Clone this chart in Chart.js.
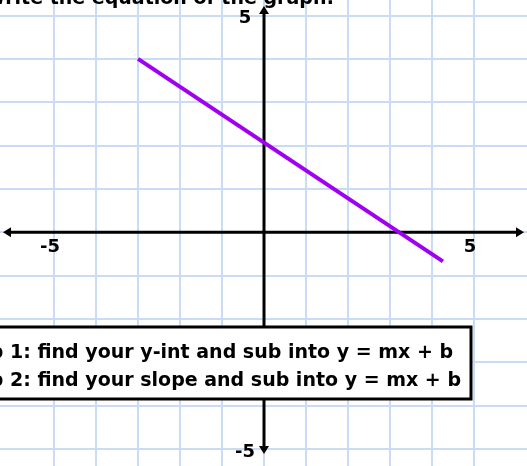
<!DOCTYPE html>
<html>
<head>
<meta charset="utf-8">
<script src="https://cdn.jsdelivr.net/npm/chart.js@4"></script>
<style>
  html, body { margin: 0; padding: 0; background: #fff; }
  #wrap { width: 527px; height: 466px; position: relative; }
</style>
</head>
<body>
<div id="wrap"><canvas id="graph"></canvas></div>
<script>
// line
const lineX = [-3, 4.26];
const lineY = [4, -0.67];
// axis labels
const xLabels = [-5, 5];
const yLabels = [5, -5];
const titleText = 'Write the equation of the graph:';
const steps = [
  'Step 1: find your y-int and sub into y = mx + b',
  'Step 2: find your slope and sub into y = mx + b'
];

const points = lineX.map((x, i) => ({ x: x, y: lineY[i] }));
const onlyInts = s => { s.ticks = s.ticks.filter(t => Number.isInteger(t.value)); };
const FONT = 'bold 19px "DejaVu Sans", Verdana, sans-serif';

function arrow(ctx, x, y, dir) {
  // dir: 'l','r','u','d'
  ctx.beginPath();
  if (dir === 'l') { ctx.moveTo(x, y); ctx.lineTo(x + 8, y - 5); ctx.lineTo(x + 8, y + 5); }
  if (dir === 'r') { ctx.moveTo(x, y); ctx.lineTo(x - 8, y - 5); ctx.lineTo(x - 8, y + 5); }
  if (dir === 'u') { ctx.moveTo(x, y); ctx.lineTo(x - 5, y + 8); ctx.lineTo(x + 5, y + 8); }
  if (dir === 'd') { ctx.moveTo(x, y); ctx.lineTo(x - 5, y - 8); ctx.lineTo(x + 5, y - 8); }
  ctx.closePath();
  ctx.fill();
}

const axesPlugin = {
  id: 'axes',
  beforeDatasetsDraw(chart) {
    const { ctx, chartArea: a, scales: { x, y } } = chart;
    const x0 = x.getPixelForValue(0), y0 = y.getPixelForValue(0);
    ctx.save();
    ctx.strokeStyle = '#000';
    ctx.fillStyle = '#000';
    ctx.lineWidth = 3;
    ctx.beginPath();
    ctx.moveTo(a.left + 6, y0); ctx.lineTo(a.right - 6, y0);
    ctx.moveTo(x0, a.top + 10); ctx.lineTo(x0, a.bottom - 16);
    ctx.stroke();
    arrow(ctx, a.left + 3, y0, 'l');
    arrow(ctx, a.right - 3, y0, 'r');
    arrow(ctx, x0, a.top + 6, 'u');
    arrow(ctx, x0, a.bottom - 12, 'd');

    ctx.font = 'bold 18px "DejaVu Sans", Verdana, sans-serif';
    ctx.textAlign = 'center';
    ctx.textBaseline = 'middle';
    xLabels.forEach(v => ctx.fillText(String(v), x.getPixelForValue(v) - 4, y0 + 15));
    yLabels.forEach(v => ctx.fillText(String(v), x0 - 19, y.getPixelForValue(v) + 3));
    ctx.restore();
  },
  afterDatasetsDraw(chart) {
    const { ctx } = chart;
    ctx.save();
    ctx.font = FONT;
    ctx.fillStyle = '#000';
    ctx.textBaseline = 'alphabetic';

    // title, clipped by the top edge
    ctx.textAlign = 'right';
    ctx.fillText(titleText, 334, 4);

    // step box
    ctx.fillStyle = '#fff';
    ctx.strokeStyle = '#000';
    ctx.lineWidth = 3;
    ctx.fillRect(-10, 327, 481, 72);
    ctx.strokeRect(-10, 327, 481, 72);

    ctx.fillStyle = '#000';
    ctx.textAlign = 'left';
    const left = 461 - ctx.measureText(steps[1]).width;
    ctx.fillText(steps[0], left, 358);
    ctx.fillText(steps[1], left, 386);
    ctx.restore();
  }
};

new Chart(document.getElementById('graph'), {
  type: 'scatter',
  data: {
    datasets: [{
      data: points,
      showLine: true,
      borderColor: '#a000f0',
      borderWidth: 4,
      pointRadius: 0,
      borderCapStyle: 'butt'
    }]
  },
  options: {
    responsive: true,
    maintainAspectRatio: false,
    animation: false,
    layout: { padding: 0 },
    plugins: { legend: { display: false }, tooltip: { enabled: false } },
    scales: {
      x: {
        type: 'linear',
        min: -6.286,
        max: 6.262,
        afterBuildTicks: onlyInts,
        ticks: { display: false, stepSize: 1 },
        grid: { color: '#cadcf5', lineWidth: 2, drawTicks: false },
        border: { display: false }
      },
      y: {
        type: 'linear',
        min: -5.39,
        max: 5.36,
        afterBuildTicks: onlyInts,
        ticks: { display: false, stepSize: 1 },
        grid: { color: '#cadcf5', lineWidth: 2, drawTicks: false },
        border: { display: false }
      }
    }
  },
  plugins: [axesPlugin]
});
</script>
</body>
</html>
